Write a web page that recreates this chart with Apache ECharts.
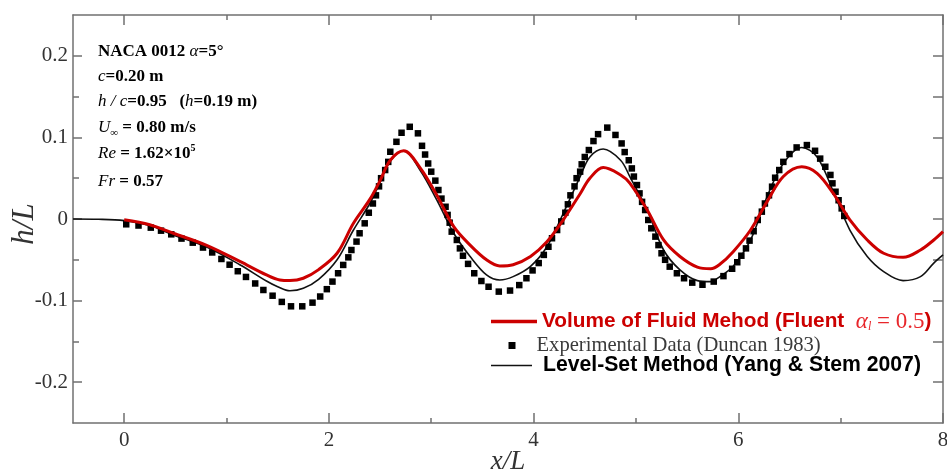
<!DOCTYPE html>
<html><head><meta charset="utf-8">
<script src="https://cdn.jsdelivr.net/npm/echarts@6/dist/echarts.min.js"></script>
<style>html,body{margin:0;padding:0;background:#fff}#c{width:947px;height:472px}</style>
</head><body><div id="c"></div>
<script>
// ---- tick values ----
const xMajorTicks = [0, 2, 4, 6, 8];
const xMinorTicks = [1, 3, 5, 7];
const yMajorTicks = [-0.2, -0.1, 0, 0.1, 0.2];
const yMinorTicks = [-0.15, -0.05, 0.05, 0.15];

// ---- series names ----
const nameVOF = 'Volume of Fluid Mehod (Fluent αl = 0.5)';
const nameExp = 'Experimental Data (Duncan 1983)';
const nameLS = 'Level-Set Method (Yang & Stem 2007)';

// ---- Level-Set Method (black thin line) ----
const levelSet = [
  [-0.5, 0.0], [-0.25, -0.0003], [0, -0.002], [0.25, -0.008], [0.48, -0.0196], [0.8, -0.034],
  [1.13, -0.056], [1.39, -0.076], [1.5, -0.083], [1.62, -0.088], [1.75, -0.085], [1.9, -0.074],
  [2.08, -0.050], [2.24, -0.0135], [2.4, 0.019], [2.5, 0.045], [2.6, 0.071], [2.73, 0.0836],
  [2.89, 0.060], [3.055, 0.023], [3.22, -0.0175], [3.38, -0.046], [3.54, -0.0685], [3.67, -0.0747],
  [3.8, -0.0706], [3.97, -0.058], [4.13, -0.034], [4.29, 0.007], [4.455, 0.052], [4.55, 0.076],
  [4.68, 0.0857], [4.85, 0.072], [4.94, 0.052], [5.11, 0.011], [5.27, -0.038], [5.43, -0.0624],
  [5.6, -0.0755], [5.73, -0.0767], [5.82, -0.0706], [5.95, -0.058], [6.12, -0.0257], [6.28, 0.027],
  [6.44, 0.068], [6.62, 0.0877], [6.77, 0.076], [6.93, 0.033], [7.09, -0.0135], [7.26, -0.046],
  [7.42, -0.0645], [7.61, -0.0755], [7.78, -0.0706], [7.91, -0.054], [8.0, -0.044]
];

// ---- Volume of Fluid (red thick line) ----
const vof = [
  [0, -0.001], [0.25, -0.007], [0.48, -0.0175], [0.8, -0.032], [1.13, -0.052], [1.39, -0.0685],
  [1.52, -0.0747], [1.62, -0.0755], [1.75, -0.0726], [1.9, -0.062], [2.08, -0.042], [2.24, -0.0053],
  [2.4, 0.024], [2.5, 0.047], [2.6, 0.072], [2.73, 0.0836], [2.89, 0.063], [3.055, 0.029],
  [3.22, -0.0094], [3.38, -0.032], [3.54, -0.050], [3.67, -0.0575], [3.8, -0.056], [3.97, -0.046],
  [4.13, -0.028], [4.29, -0.001], [4.455, 0.031], [4.55, 0.050], [4.68, 0.063], [4.85, 0.054],
  [4.94, 0.044], [5.11, 0.011], [5.27, -0.0257], [5.43, -0.046], [5.6, -0.059], [5.73, -0.061],
  [5.82, -0.0555], [5.95, -0.040], [6.12, -0.0135], [6.28, 0.021], [6.44, 0.052], [6.62, 0.064],
  [6.77, 0.056], [6.93, 0.031], [7.09, -0.001], [7.26, -0.0257], [7.42, -0.042], [7.61, -0.047],
  [7.78, -0.038], [7.91, -0.0257], [8.0, -0.0155]
];

// ---- Experimental data (squares) ----
const experimental = [
  [0.02, -0.0065], [0.14, -0.008], [0.26, -0.0106], [0.36, -0.0143], [0.46, -0.0188], [0.56, -0.024],
  [0.67, -0.029], [0.77, -0.035], [0.86, -0.041], [0.95, -0.049], [1.03, -0.056], [1.11, -0.064],
  [1.19, -0.071], [1.28, -0.079], [1.36, -0.087], [1.45, -0.094], [1.54, -0.1016], [1.63, -0.107],
  [1.74, -0.107], [1.84, -0.1025], [1.915, -0.095], [1.98, -0.086], [2.035, -0.0767], [2.09, -0.0665],
  [2.14, -0.0563], [2.19, -0.047], [2.22, -0.038], [2.27, -0.0277], [2.30, -0.0175], [2.35, -0.0053],
  [2.39, 0.0077], [2.43, 0.019], [2.46, 0.029], [2.49, 0.040], [2.51, 0.050], [2.55, 0.060],
  [2.58, 0.070], [2.60, 0.0824], [2.66, 0.0946], [2.71, 0.1057], [2.79, 0.113], [2.87, 0.105],
  [2.91, 0.0897], [2.94, 0.079], [2.97, 0.068], [3.0, 0.058], [3.04, 0.047], [3.07, 0.0355],
  [3.10, 0.025], [3.14, 0.015], [3.16, 0.005], [3.18, -0.0045], [3.20, -0.0155], [3.25, -0.0257],
  [3.28, -0.036], [3.31, -0.045], [3.36, -0.055], [3.42, -0.0665], [3.49, -0.076], [3.56, -0.083],
  [3.66, -0.089], [3.77, -0.0877], [3.86, -0.081], [3.93, -0.0726], [3.99, -0.063], [4.05, -0.054],
  [4.10, -0.044], [4.145, -0.034], [4.18, -0.0236], [4.23, -0.0135], [4.27, -0.003], [4.31, 0.0077],
  [4.335, 0.018], [4.36, 0.029], [4.40, 0.040], [4.42, 0.050], [4.455, 0.058], [4.47, 0.067],
  [4.50, 0.076], [4.54, 0.0845], [4.585, 0.0955], [4.63, 0.104], [4.72, 0.112], [4.80, 0.103],
  [4.86, 0.0926], [4.89, 0.082], [4.93, 0.072], [4.96, 0.062], [4.98, 0.052], [5.01, 0.0416],
  [5.035, 0.0314], [5.06, 0.021], [5.09, 0.011], [5.12, -0.0012], [5.15, -0.0114], [5.19, -0.0216],
  [5.22, -0.032], [5.25, -0.042], [5.285, -0.050], [5.33, -0.0584], [5.40, -0.0665], [5.47, -0.0726],
  [5.55, -0.078], [5.65, -0.0806], [5.76, -0.0767], [5.855, -0.070], [5.94, -0.061], [5.99, -0.053],
  [6.03, -0.045], [6.075, -0.036], [6.11, -0.0265], [6.15, -0.015], [6.19, -0.0012], [6.23, 0.009],
  [6.26, 0.019], [6.30, 0.029], [6.33, 0.0396], [6.36, 0.0506], [6.40, 0.060], [6.44, 0.070],
  [6.50, 0.0796], [6.57, 0.0877], [6.67, 0.0906], [6.75, 0.0836], [6.80, 0.074], [6.85, 0.064],
  [6.90, 0.054], [6.92, 0.0437], [6.95, 0.0334], [6.98, 0.023], [7.01, 0.013], [7.035, 0.0037]
];

const AX = '#707070';
const SERIF = '"Liberation Serif", "Times New Roman", serif';
const SANS = '"Liberation Sans", Arial, sans-serif';
const gridBox = {left: 73, right: 4, top: 15, bottom: 49, containLabel: false, outerBoundsMode: 'none'};

function xAxisDef(grid, pos, ticks, len, opts) {
  return Object.assign({
    type: 'value', gridIndex: grid, position: pos, min: -0.5, max: 8,
    axisLine: {show: false, onZero: false},
    axisTick: {show: true, inside: true, length: len, customValues: ticks, lineStyle: {color: AX, width: 1.5}},
    axisLabel: {show: false},
    splitLine: {show: false}
  }, opts || {});
}
function yAxisDef(grid, pos, ticks, len, opts) {
  return Object.assign({
    type: 'value', gridIndex: grid, position: pos, min: -0.25, max: 0.25,
    axisLine: {show: false, onZero: false},
    axisTick: {show: true, inside: true, length: len, customValues: ticks, lineStyle: {color: AX, width: 1.5}},
    axisLabel: {show: false},
    splitLine: {show: false}
  }, opts || {});
}

const annStyle = {
  n: {fontFamily: SERIF, fontWeight: 'bold', fontSize: 17, color: '#151515', lineHeight: 22},
  i: {fontFamily: SERIF, fontStyle: 'italic', fontSize: 17, color: '#151515', lineHeight: 22},
  sub: {fontFamily: SERIF, fontSize: 11, color: '#151515', verticalAlign: 'bottom', lineHeight: 22},
  sup: {fontFamily: SERIF, fontWeight: 'bold', fontSize: 10, color: '#151515', verticalAlign: 'top', lineHeight: 22}
};
const annLines = [
  '{n|NACA 0012 }{i|α}{n|=5°}',
  '{i|c}{n|=0.20 m}',
  '{i|h / c}{n|=0.95   (}{i|h}{n|=0.19 m)}',
  '{i|U}{sub|∞}{n| = 0.80 m/s}',
  '{i|Re}{n| = 1.62×10}{sup|5}',
  '{i|Fr}{n| = 0.57}'
];
const annY = [52, 77, 102, 128, 154, 182];

const option = {
  animation: false,
  backgroundColor: '#fff',
  grid: [Object.assign({}, gridBox), Object.assign({}, gridBox)],
  xAxis: [
    xAxisDef(0, 'bottom', xMajorTicks, 10, {
      axisLine: {show: true, onZero: false, lineStyle: {color: AX, width: 1.5}},
      axisLabel: {show: true, customValues: xMajorTicks, margin: 7, color: '#333', fontFamily: SERIF, fontSize: 21},
      name: 'x/L', nameLocation: 'middle', nameGap: 25, nameMoveOverlap: false,
      nameTextStyle: {fontFamily: SERIF, fontStyle: 'italic', fontSize: 27, color: '#333'}
    }),
    xAxisDef(0, 'top', xMajorTicks, 10, {axisLine: {show: true, onZero: false, lineStyle: {color: AX, width: 1.5}}}),
    xAxisDef(1, 'bottom', xMinorTicks, 5),
    xAxisDef(1, 'top', xMinorTicks, 5)
  ],
  yAxis: [
    yAxisDef(0, 'left', yMajorTicks, 9, {
      axisLine: {show: true, onZero: false, lineStyle: {color: AX, width: 1.5}},
      axisLabel: {show: true, customValues: yMajorTicks, margin: 5, color: '#333', fontFamily: SERIF, fontSize: 21},
      name: 'h/L', nameLocation: 'middle', nameGap: 33, nameRotate: 90, nameMoveOverlap: false,
      nameTextStyle: {fontFamily: SERIF, fontStyle: 'italic', fontSize: 31, color: '#333', padding: [0, 10, 0, 0]}
    }),
    yAxisDef(0, 'right', yMajorTicks, 10, {axisLine: {show: true, onZero: false, lineStyle: {color: AX, width: 1.5}}}),
    yAxisDef(1, 'left', yMinorTicks, 6),
    yAxisDef(1, 'right', yMinorTicks, 10)
  ],
  legend: [
    {
      data: [{name: nameVOF, icon: 'rect'}], left: 491, top: 310, padding: 0,
      itemWidth: 46, itemHeight: 3.5, selectedMode: false,
      formatter: () => '{g| }{b|Volume of Fluid Mehod (Fluent  }{a|α}{s|l}{c| = 0.5}{b|)}',
      textStyle: {rich: {
        g: {width: 0, fontSize: 10, lineHeight: 22},
        b: {fontFamily: SANS, fontWeight: 'bold', fontSize: 20.8, color: '#cc0000', lineHeight: 22},
        a: {fontFamily: SERIF, fontStyle: 'italic', fontSize: 23, color: '#e8262b', lineHeight: 22},
        s: {fontFamily: SERIF, fontStyle: 'italic', fontSize: 12, color: '#e8262b', verticalAlign: 'bottom', lineHeight: 22},
        c: {fontFamily: SERIF, fontSize: 23, color: '#e8262b', lineHeight: 22}
      }}
    },
    {
      data: [{name: nameExp, icon: 'rect'}], left: 508.5, top: 335, padding: 0,
      itemWidth: 7, itemHeight: 7, selectedMode: false,
      formatter: () => '{g| }{t|Experimental Data (Duncan 1983)}',
      textStyle: {rich: {
        g: {width: 16, fontSize: 10, lineHeight: 22},
        t: {fontFamily: SERIF, fontSize: 20.6, color: '#3a3a3a', lineHeight: 22}
      }}
    },
    {
      data: [{name: nameLS, icon: 'rect'}], left: 491, top: 355, padding: 0,
      itemWidth: 41, itemHeight: 1.6, selectedMode: false,
      formatter: () => '{g| }{b|Level-Set Method (Yang & Stem 2007)}',
      textStyle: {rich: {
        g: {width: 6, fontSize: 10, lineHeight: 22},
        b: {fontFamily: SANS, fontWeight: 'bold', fontSize: 21.2, color: '#000', lineHeight: 22}
      }}
    }
  ],
  graphic: annLines.map((t, k) => ({
    type: 'text', x: 98, y: annY[k], z: 10,
    style: {text: t, rich: annStyle, verticalAlign: 'middle', align: 'left'}
  })),
  series: [
    {
      name: nameLS, type: 'line', xAxisIndex: 0, yAxisIndex: 0, data: levelSet,
      showSymbol: false, symbol: 'none', smooth: 0.35, color: '#111',
      lineStyle: {color: '#111', width: 1.6}, z: 2
    },
    {
      name: nameExp, type: 'scatter', xAxisIndex: 0, yAxisIndex: 0, data: experimental,
      symbol: 'rect', symbolSize: 6.5, color: '#000', itemStyle: {color: '#000', opacity: 1}, z: 3
    },
    {
      name: nameVOF, type: 'line', xAxisIndex: 0, yAxisIndex: 0, data: vof,
      showSymbol: false, symbol: 'none', smooth: 0.35, color: '#cc0000',
      lineStyle: {color: '#cc0000', width: 3}, z: 4
    }
  ]
};
const chart = echarts.init(document.getElementById('c'), null, {renderer: 'canvas'});
chart.setOption(option);
</script>
</body></html>
